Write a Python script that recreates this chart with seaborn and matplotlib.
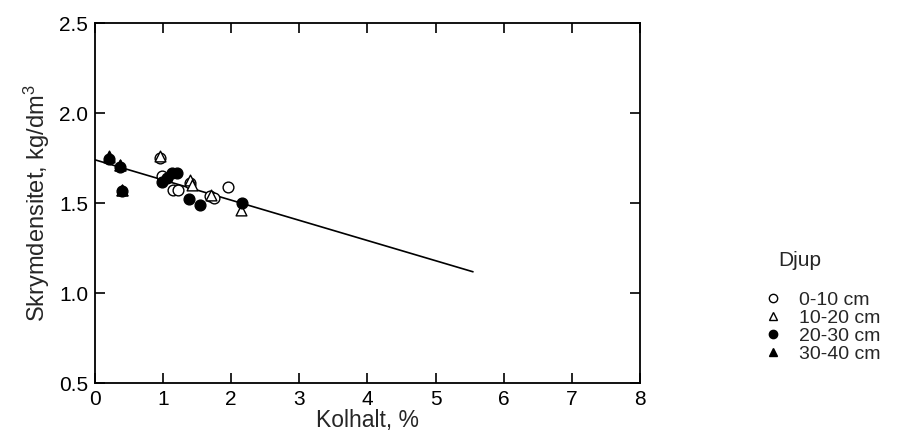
import numpy as np
import pandas as pd
import seaborn as sns
import matplotlib.pyplot as plt
from matplotlib.lines import Line2D

# carbon content (%) and bulk density (kg/dm3) per depth class
x_0_10 = [0.95, 0.99, 1.15, 1.22, 1.40, 1.69, 1.75, 1.95]
y_0_10 = [1.75, 1.65, 1.57, 1.575, 1.61, 1.54, 1.526, 1.59]
x_10_20 = [0.21, 0.37, 0.39, 0.95, 1.395, 1.42, 1.70, 2.14]
y_10_20 = [1.76, 1.71, 1.575, 1.76, 1.628, 1.60, 1.545, 1.46]
x_20_30 = [0.21, 0.37, 0.39, 0.98, 1.05, 1.13, 1.20, 1.38, 1.54, 2.16]
y_20_30 = [1.745, 1.70, 1.565, 1.615, 1.637, 1.665, 1.665, 1.524, 1.49, 1.50]
x_30_40 = [0.21, 0.37, 0.39]
y_30_40 = [1.755, 1.71, 1.575]

# regression line end points
fit_x = [0.0, 5.55]
fit_y = [1.74, 1.118]

labels = ['0-10 cm', '10-20 cm', '20-30 cm', '30-40 cm']

sns.set_style('ticks')
plt.rcParams['font.family'] = ['Liberation Sans', 'DejaVu Sans']
plt.rcParams['mathtext.default'] = 'regular'

fig = plt.figure(figsize=(9.05, 4.43), dpi=100)
ax = fig.add_axes([0.105, 0.1354, 0.602, 0.8126])

ax.plot(fit_x, fit_y, color='black', lw=1.2)

groups = [
    (x_0_10, y_0_10, 'o', 'white'),
    (x_10_20, y_10_20, '^', 'white'),
    (x_20_30, y_20_30, 'o', 'black'),
    (x_30_40, y_30_40, '^', 'black'),
]
for gx, gy, m, fc in groups:
    sns.scatterplot(x=gx, y=gy, marker=m, s=60, facecolor=fc,
                    edgecolor='black', linewidth=1.0, ax=ax, zorder=3)

ax.set_xlim(0, 8)
ax.set_ylim(0.5, 2.5)
ax.set_xticks(range(0, 9))
ax.set_yticks([0.5, 1.0, 1.5, 2.0, 2.5])
ax.set_yticklabels(['0.5', '1.0', '1.5', '2.0', '2.5'])
ax.tick_params(direction='in', length=7, width=1.2, top=True, right=True,
               labelsize=15, colors='black')
ax.tick_params(axis='x', pad=5)
ax.tick_params(axis='y', pad=5)
for sp in ax.spines.values():
    sp.set_linewidth(1.3)
    sp.set_color('black')
ax.set_xlabel('Kolhalt, %', fontsize=16.5, labelpad=0)
ax.set_ylabel('Skrymdensitet, kg/dm$^3$', fontsize=17, labelpad=5)

handles = [
    Line2D([], [], ls='', marker='o', mfc='white', mec='black', ms=6),
    Line2D([], [], ls='', marker='^', mfc='white', mec='black', ms=6),
    Line2D([], [], ls='', marker='o', mfc='black', mec='black', ms=6),
    Line2D([], [], ls='', marker='^', mfc='black', mec='black', ms=6),
]
fig.text(778 / 905, 1 - 261 / 443, 'Djup', fontsize=15, ha='left', va='center')
fig.legend(handles, labels, loc='upper left',
           bbox_to_anchor=(764 / 905, 1 - 291 / 443), frameon=False,
           fontsize=14, handletextpad=0.9, labelspacing=0.02,
           handlelength=0.9, borderpad=0, borderaxespad=0)

fig.savefig('out.png', dpi=100)
